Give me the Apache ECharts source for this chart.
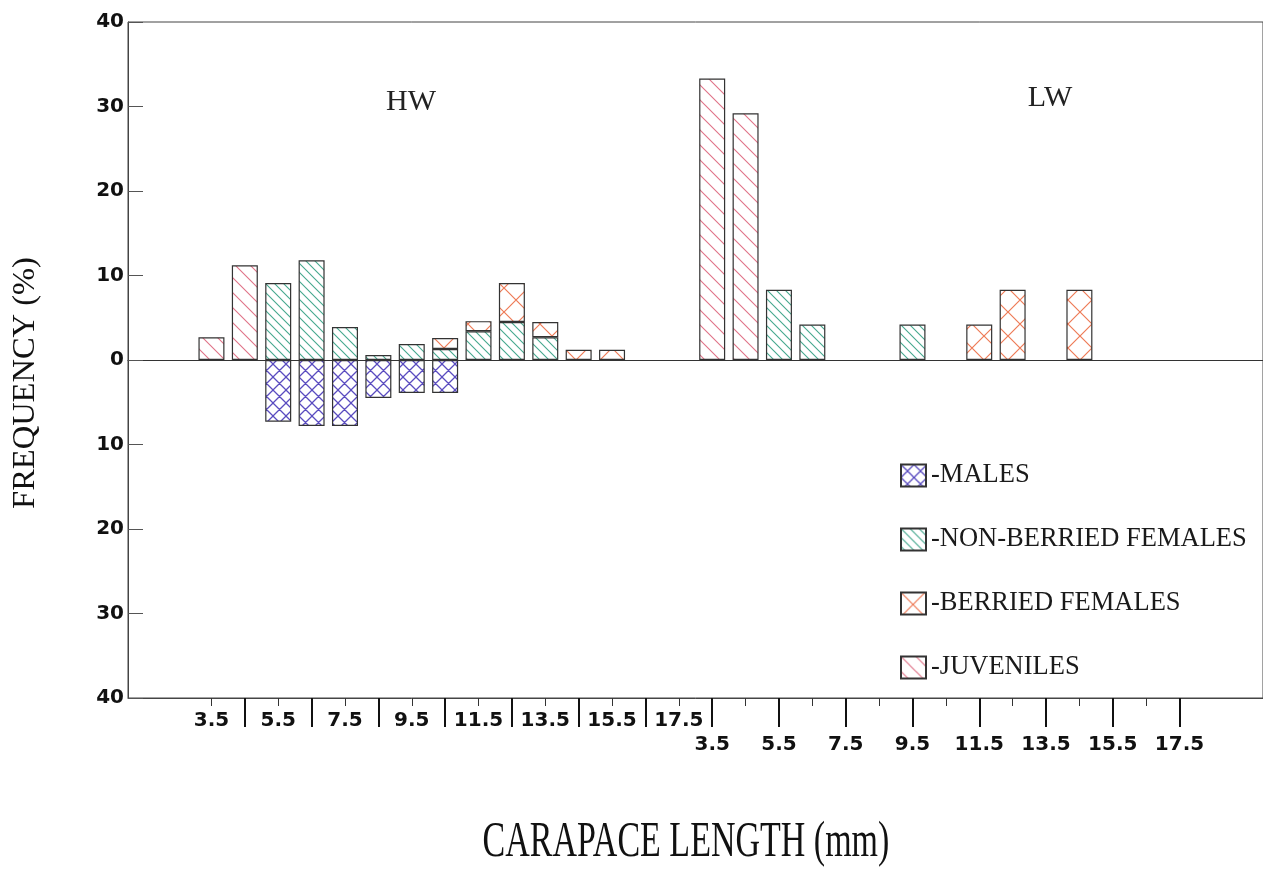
<!DOCTYPE html>
<html>
<head>
<meta charset="utf-8">
<title>Carapace length frequency</title>
<script src="https://cdn.jsdelivr.net/npm/echarts@6/dist/echarts.min.js"></script>
<style>
  html, body { margin: 0; padding: 0; background: #fff; }
  #chart { width: 1263px; height: 872px; }
</style>
</head>
<body>
<div id="chart"></div>
<script>
// Carapace length classes (mm), shared by both sites
const classes = ['3.5', '4.5', '5.5', '6.5', '7.5', '8.5', '9.5', '10.5',
                 '11.5', '12.5', '13.5', '14.5', '15.5', '16.5', '17.5'];

// HW site, frequency (%) per class
const hwMales      = [null, null, 7.3, 7.8, 7.8, 4.5, 3.9, 3.9, null, null, null, null, null, null, null];
const hwNonBerried = [null, null, 9.1, 11.8, 3.9, 0.6, 1.9, 1.3, 3.4, 4.5, 2.7, null, null, null, null];
const hwBerried    = [null, null, null, null, null, null, null, 1.3, 1.2, 4.6, 1.8, 1.2, 1.2, null, null];
const hwJuveniles  = [2.7, 11.2, null, null, null, null, null, null, null, null, null, null, null, null, null];

// LW site, frequency (%) per class
const lwMales      = [null, null, null, null, null, null, null, null, null, null, null, null, null, null, null];
const lwNonBerried = [null, null, 8.3, 4.2, null, null, 4.2, null, null, null, null, null, null, null, null];
const lwBerried    = [null, null, null, null, null, null, null, null, 4.2, 8.3, null, 8.3, null, null, null];
const lwJuveniles  = [33.3, 29.2, null, null, null, null, null, null, null, null, null, null, null, null, null];

const seriesNames = ['MALES', 'NON-BERRIED FEMALES', 'BERRIED FEMALES', 'JUVENILES'];
const siteNames = ['HW', 'LW'];

// Two empty slots pad each end of the category axis
const PAD = 2;
const categories = []
  .concat(['pad 0', 'pad 1'])
  .concat(classes.map(c => siteNames[0] + ' ' + c))
  .concat(classes.map(c => siteNames[1] + ' ' + c))
  .concat(['pad 2', 'pad 3']);

function row(hw, lw, sign) {
  const s = sign || 1;
  const f = v => (v == null ? null : s * v);
  return [null, null].concat(hw.map(f), lw.map(f), [null, null]);
}

// Hatch tiles used as bar fills
function hatch(size, color, lw, dirs) {
  const c = document.createElement('canvas');
  c.width = c.height = size;
  const g = c.getContext('2d');
  g.fillStyle = '#ffffff';
  g.fillRect(0, 0, size, size);
  g.strokeStyle = color;
  g.lineWidth = lw;
  g.beginPath();
  for (let k = -1; k <= 1; k++) {
    if (dirs.indexOf('\\') >= 0) {
      g.moveTo(k * size - 1, -1);
      g.lineTo(k * size + size + 1, size + 1);
    }
    if (dirs.indexOf('/') >= 0) {
      g.moveTo(k * size + size + 1, -1);
      g.lineTo(k * size - 1, size + 1);
    }
  }
  g.stroke();
  return { image: c, repeat: 'repeat' };
}

const fills = [
  hatch(13, '#5a4cc0', 1.3, '\\/'),
  hatch(9, '#45a88e', 1.1, '\\'),
  hatch(24, '#ee7b57', 1.2, '\\/'),
  hatch(15, '#e07388', 1.1, '\\')
];

const values = [
  row(hwMales, lwMales, -1),
  row(hwNonBerried, lwNonBerried),
  row(hwBerried, lwBerried),
  row(hwJuveniles, lwJuveniles)
];

const slotOf = idx => idx - PAD;
const isEvenSlot = idx => slotOf(idx) >= 0 && slotOf(idx) <= 28 && slotOf(idx) % 2 === 0;
const isOddSlot = idx => slotOf(idx) >= 1 && slotOf(idx) <= 29 && slotOf(idx) % 2 === 1;
const labelText = v => v.split(' ')[1];

const tickFont = {
  fontFamily: 'DejaVu Sans', fontWeight: 'bold', fontSize: 20, color: '#111'
};
const serif = 'Liberation Serif, Times New Roman, serif';
const axisColor = '#444';

const SLOT = 33.75;

const chart = echarts.init(document.getElementById('chart'), null, { renderer: 'canvas' });

chart.setOption({
  animation: false,
  backgroundColor: '#ffffff',
  grid: {
    left: 128, top: 22, bottom: 174,
    width: SLOT * categories.length,
    show: true, borderColor: axisColor, borderWidth: 1, backgroundColor: 'transparent'
  },
  xAxis: [
    {
      // bottom frame line, short ticks and HW class labels
      type: 'category', data: categories, position: 'bottom',
      axisLine: { show: true, onZero: false, lineStyle: { color: axisColor, width: 1 } },
      axisTick: { show: true, alignWithLabel: true, length: 8, interval: isEvenSlot,
                  lineStyle: { color: '#333', width: 1 } },
      axisLabel: Object.assign({
        show: true, margin: 13,
        interval: idx => isEvenSlot(idx) && slotOf(idx) <= 14,
        formatter: labelText
      }, tickFont),
      splitLine: { show: false }
    },
    {
      // long separators and LW class labels
      type: 'category', data: categories, position: 'bottom',
      axisLine: { show: false, onZero: false },
      axisTick: { show: true, alignWithLabel: true, length: 29, interval: isOddSlot,
                  lineStyle: { color: '#111', width: 2 } },
      axisLabel: Object.assign({
        show: true, margin: 37,
        interval: idx => isOddSlot(idx) && slotOf(idx) >= 15,
        formatter: labelText
      }, tickFont),
      splitLine: { show: false }
    },
    {
      // zero baseline
      type: 'category', data: categories, position: 'bottom',
      axisLine: { show: true, onZero: true, lineStyle: { color: '#333', width: 1.2 } },
      axisTick: { show: false },
      axisLabel: { show: false },
      splitLine: { show: false }
    }
  ],
  yAxis: {
    type: 'value', min: -40, max: 40, interval: 10,
    axisLine: { show: true, lineStyle: { color: axisColor, width: 1 } },
    axisTick: { show: true, inside: true, length: 15, lineStyle: { color: '#555' } },
    axisLabel: Object.assign({ margin: 4, formatter: v => String(Math.abs(v)) }, tickFont),
    splitLine: { show: false }
  },
  legend: {
    orient: 'vertical', left: 895, top: 457,
    icon: 'rect', itemWidth: 25, itemHeight: 22, itemGap: 37,
    data: seriesNames,
    formatter: name => '-' + name,
    textStyle: { fontFamily: serif, fontSize: 26.5, color: '#1a1a1a' }
  },
  series: seriesNames.map((name, i) => ({
    name: name,
    type: 'bar',
    xAxisIndex: 0,
    stack: 'freq',
    barWidth: 26,
    data: values[i],
    itemStyle: { color: fills[i], borderColor: '#333', borderWidth: 1.2 },
    emphasis: { disabled: true },
    silent: true
  })),
  graphic: [
    { type: 'text', x: 411, y: 102,
      style: { text: siteNames[0], font: '30px ' + serif, fill: '#222',
               textAlign: 'center', textVerticalAlign: 'middle' } },
    { type: 'text', x: 1050, y: 98,
      style: { text: siteNames[1], font: '30px ' + serif, fill: '#222',
               textAlign: 'center', textVerticalAlign: 'middle' } },
    { type: 'text', x: 25, y: 383, rotation: Math.PI / 2,
      style: { text: 'FREQUENCY (%)', font: '32.5px ' + serif, fill: '#111',
               textAlign: 'center', textVerticalAlign: 'middle' } },
    { type: 'text', x: 686, y: 843, scaleX: 0.68,
      style: { text: 'CARAPACE LENGTH (mm)', font: '50px ' + serif, fill: '#111',
               textAlign: 'center', textVerticalAlign: 'middle' } }
  ]
});
</script>
</body>
</html>
